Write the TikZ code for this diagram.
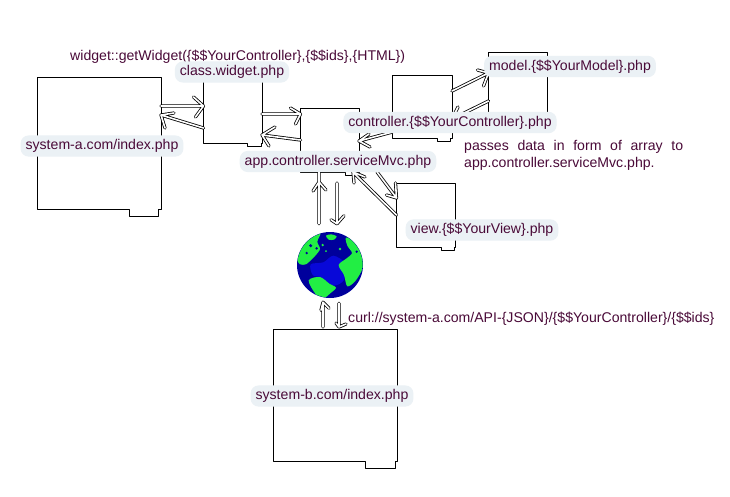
\documentclass[tikz,border=0pt]{standalone}
\usepackage{fontspec}
\setmainfont{Liberation Sans}
\definecolor{ink}{HTML}{4A0A38}
\definecolor{halo}{HTML}{EBF1F5}
\definecolor{land}{HTML}{22EE44}
\definecolor{deep}{HTML}{00009C}
\definecolor{sea}{HTML}{0808D8}
\tikzset{
  x=1pt,y=-1pt,
  docbox/.style={minimum width=#1,inner sep=0pt,outer sep=0pt},
  outline/.style={draw=black,line width=.8pt,line join=round},
  wire/.style={draw=black,double=white,double distance=1.6pt,line width=.8pt,line join=round,line cap=round},
  tag/.style={fill=halo,rounded corners=8pt,inner xsep=5pt,inner ysep=4pt,text=ink,font=\fontsize{14.1}{16}\selectfont},
  plain/.style={text=ink,inner sep=0pt,font=\fontsize{14.1}{16}\selectfont},
}
% name, left, top, right, bottom, notch left, notch right, notch bottom
\newcommand{\docshape}[8]{%
  \node[docbox=#4pt-#2pt,minimum height=#5pt-#3pt] (#1) at ({(#2+#4)/2},{(#3+#5)/2}) {};
  \draw[outline] (#2,#3) -- (#4,#3) -- (#4,#5) -- (#7,#5) -- (#7,#8) -- (#6,#8) -- (#6,#5) -- (#2,#5) -- cycle;
}
\begin{document}
\begin{tikzpicture}
\useasboundingbox[fill=white] (0,0) rectangle (730,496);
\docshape{sysa}{37}{77}{161}{209}{129}{158}{216}
\docshape{widget}{203.5}{81}{262}{143}{247}{261}{146}
\docshape{service}{300.5}{108}{359}{172}{345}{358}{175}
\docshape{ctrl}{392.5}{75}{452}{138}{437}{450}{141}
\docshape{model}{488.5}{52}{547}{115}{533}{546}{118}
\docshape{view}{396.5}{183}{455}{247}{441}{454}{250}
\docshape{sysb}{273.5}{329}{397}{461}{365}{395}{468}
% globe
\node[circle,minimum size=66pt,inner sep=0pt,fill=deep] (globe) at (330,265) {};
\begin{scope}[shift={(290,225)},x=.3333pt,y=-.3333pt]
  \clip (120,120) circle (98);
  \fill[sea] plot[smooth cycle] coordinates {(62,118)(100,112)(130,92)(165,115)(162,165)(130,182)(95,158)(68,150)};
  \fill[land] plot[smooth cycle] coordinates {(72,26)(92,24)(82,50)(90,72)(76,92)(60,108)(48,118)(30,118)(20,100)(28,60)(48,36)};
  \fill[land] plot[smooth cycle] coordinates {(168,38)(196,48)(222,90)(218,130)(196,168)(172,184)(162,150)(146,120)(170,100)(186,84)(172,62)};
  \fill[land] plot[smooth cycle] coordinates {(56,166)(90,156)(118,176)(138,188)(122,204)(100,220)(76,206)};
  \fill[land] plot[smooth cycle] coordinates {(108,32)(124,28)(140,34)(132,44)(116,44)};
  \fill[deep] (62,62) circle (5) (50,84) circle (4) (80,70) circle (4) (200,80) circle (4);
  \fill[land] (98,60) circle (4) (108,78) circle (3) (150,72) circle (4);
\end{scope}
% connectors
\draw[wire] (sysa.east |- 0,106) -- (widget.west |- 0,106) ++(-10,-9) -- ++(10,9) -- ++(-8,11);
\draw[wire] (widget.west |- 0,128) -- (sysa.east |- 0,115) ++(13,-2) -- ++(-13,2) -- ++(4,13);
\draw[wire] (widget.east |- 0,114) -- (service.west |- 0,114) ++(-10,-6) -- ++(10,6) -- ++(-5,10);
\draw[wire] (service.west |- 0,140) -- (widget.east |- 0,135) ++(13,-8) -- ++(-13,8) -- ++(7,11);
\draw[wire] (ctrl.west |- 0,132) -- (service.east |- 0,141) ++(10,-7) -- ++(-10,7) -- ++(11,6);
\draw[wire] (ctrl.east |- 0,91) -- (model.west |- 0,73) ++(-11,-3) -- ++(11,3) -- ++(-5,13);
\draw[wire] (model.west |- 0,101) -- (ctrl.east |- 0,119) ++(6,-12) -- ++(-6,12) -- ++(12,2);
\draw[wire] (service.east |- 0,172) ++(18,0) -- (view.west |- 0,198) ++(-1,-15) -- ++(1,15) -- ++(-10,-3);
\draw[wire] (view.west |- 0,215) -- ([xshift=-6pt]service.east |- 0,172) ++(1,11) -- ++(-1,-11) -- ++(12,5);
\draw[wire] (globe.north -| 319,0) ++(0,-8) -- (service.south -| 319,0) ++(0,10) ++(-6,9) -- ++(6,-9) -- ++(7,8);
\draw[wire] (service.south -| 337,0) ++(0,11) -- ([yshift=8pt]globe.north -| 337,0) ++(-6,-4) -- ++(6,4) -- ++(7,-8);
\draw[wire] (sysb.north -| 323,0) ++(0,-2) -- ([yshift=-4pt]globe.south -| 323,0) ++(-2,8) -- ++(2,-8) -- ++(6,6);
\draw[wire] ([yshift=-5pt]globe.south -| 339,0) -- ([yshift=2pt]sysb.north -| 339,0) ++(-3,-4) -- ++(3,4) -- ++(7,-3);
% labels
\node[plain,anchor=west] (call) at (70,56.5) {widget::getWidget(\{\$\$YourController\},\{\$\$ids\},\{HTML\})};
\node[tag] (lwidget) at (232,72) {class.widget.php};
\node[tag] (lsysa) at (102,146) {system-a.com/index.php};
\node[tag] (lservice) at (338,161.5) {app.controller.serviceMvc.php};
\node[tag] (lctrl) at (450,122.5) {controller.\{\$\$YourController\}.php};
\node[tag] (lmodel) at (570,66.5) {model.\{\$\$YourModel\}.php};
\node[tag] (lview) at (482,230) {view.\{\$\$YourView\}.php};
\node[tag] (lsysb) at (332,396) {system-b.com/index.php};
\node[plain,anchor=west] (lcurl) at (348,318.5) {curl://system-a.com/API-\{JSON\}/\{\$\$YourController\}/\{\$\$ids\}};
\node[plain,anchor=west] (lp1) at (464,146.5) {\makebox[219pt][s]{passes data in form of array to}};
\node[plain,anchor=west] (lp2) at (464,163.5) {app.controller.serviceMvc.php.};
\end{tikzpicture}
\end{document}
